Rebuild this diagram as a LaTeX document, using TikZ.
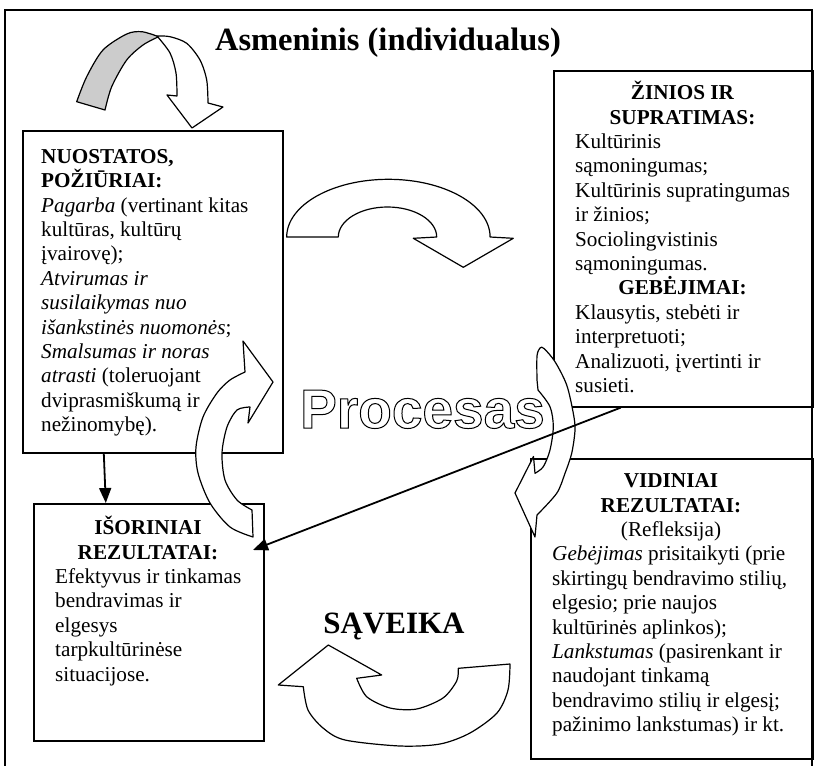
\documentclass[tikz,border=0pt]{standalone}
\usepackage{fontspec}
\setmainfont{Liberation Serif}
\newfontfamily\procfont{Liberation Sans}
\usetikzlibrary{arrows.meta}
% pirmos eilutes aukstis
\newcommand\lnstart{\rule{0pt}{20pt}}
\begin{document}
\begin{tikzpicture}[x=1pt, y=-1pt, >={Triangle[length=15pt,width=12pt]},
  every node/.style={inner sep=0pt, font=\fontsize{21.2}{24.4}\selectfont},
  box/.style={draw, line width=1.6pt, anchor=north west},
  blockarrow/.style={draw, fill=white, line width=1.2pt, line join=round},
  heading/.style={align=center, anchor=north, font=\fontsize{21.2}{24.4}\selectfont\bfseries},
  bodytext/.style={align=left, anchor=north west},
  bigtitle/.style={anchor=base, font=\fontsize{31}{36}\selectfont\bfseries},
  conn/.style={->, line width=1.8pt}]
  \useasboundingbox (0,0) rectangle (818,765);
  % remelis
  \draw[line width=1.3pt] (5,767) -- (5,10) -- (812,10) -- (812,767);
  \node[bigtitle, font=\fontsize{32.5}{38}\selectfont\bfseries] (title) at (388,51) {Asmeninis (individualus)};
  % keturi langeliai
  \node[box, minimum width=260, minimum height=322] (nuostatos) at (22,130) {};
  \node[box, minimum width=259, minimum height=336] (ziniai) at (553,70) {};
  \node[box, minimum width=230, minimum height=237] (isoriniai) at (33,503) {};
  \node[box, minimum width=282, minimum height=300] (vidiniai) at (530,458) {};
  % tekstai
  \node[bodytext] (nuostatostxt) at (41,143) {\lnstart\textbf{NUOSTATOS,}\\\textbf{POŽIŪRIAI:}\\\textit{Pagarba} (vertinant kitas\\kultūras, kultūrų\\įvairovę);\\\textit{Atvirumas ir}\\\textit{susilaikymas nuo}\\\textit{išankstinės nuomonės};\\\textit{Smalsumas ir noras}\\\textit{atrasti} (toleruojant\\dviprasmiškumą ir\\nežinomybę).};
  \node[heading] (ziniaihead) at (682.5,79.5) {\lnstart ŽINIOS IR\\SUPRATIMAS:};
  \node[bodytext] (ziniaitxt) at (575,128.3) {\lnstart Kultūrinis\\sąmoningumas;\\Kultūrinis supratingumas\\ir žinios;\\Sociolingvistinis\\sąmoningumas.};
  \node[heading] (gebejimaihead) at (682.5,274.7) {\lnstart GEBĖJIMAI:};
  \node[bodytext] (gebejimaitxt) at (575,299.1) {\lnstart Klausytis, stebėti ir\\interpretuoti;\\Analizuoti, įvertinti ir\\susieti.};
  \node[heading] (isoriniaihead) at (148,514.5) {\lnstart IŠORINIAI\\REZULTATAI:};
  \node[bodytext] (isoriniaitxt) at (55,563.3) {\lnstart Efektyvus ir tinkamas\\bendravimas ir\\elgesys\\tarpkultūrinėse\\situacijose.};
  \node[heading] (vidiniaihead) at (671,467.5) {\lnstart VIDINIAI\\REZULTATAI:\\\mdseries(Refleksija)};
  \node[bodytext] (vidiniaitxt) at (552,540.7) {\lnstart\textit{Gebėjimas} prisitaikyti (prie\\skirtingų bendravimo stilių,\\elgesio; prie naujos\\kultūrinės aplinkos);\\\textit{Lankstumas} (pasirenkant ir\\naudojant tinkamą\\bendravimo stilių ir elgesį;\\pažinimo lankstumas) ir kt.};
  \node[bigtitle] (saveika) at (394,633) {SĄVEIKA};
  % rodykle zemyn
  \draw[conn] ([xshift=-49]nuostatos.south) -- ([xshift=-43]isoriniai.north);
  % lenktos rodykles
  \filldraw[blockarrow, fill=gray!40] plot[smooth] coordinates {(76.7,101.7) (86.7,76.7) (103,50) (126.7,34) (141.7,31.7) (156.7,36)} -- plot[smooth] coordinates {(158,37) (143,45) (126.7,60) (111.7,86.7) (105,110)} -- cycle;
  \filldraw[blockarrow] plot[smooth] coordinates {(157,36) (170,53) (176,73) (177,96)} -- (167,95) -- (192,128) -- (223,107) -- plot[smooth] coordinates {(208,103) (206.7,80) (200,60) (186.7,43.3) (170,36.7) (157,36)} -- cycle;
  \filldraw[blockarrow] (286.7,237) arc[start angle=180, end angle=360, x radius=101.7, y radius=57.7] -- (513.3,238.3) -- (463.3,267.3) -- (413.3,238.3) -- (436.7,237) arc[start angle=0, end angle=-180, x radius=49.2, y radius=30] -- cycle;
  \filldraw[blockarrow] (243,341) -- (273,382) -- (248,423) -- plot[smooth] coordinates {(250,407) (237,410) (227,427) (222,453) (225,480) (237,500) (252,510)} -- plot[smooth] coordinates {(253,537) (230,527) (210,503) (198,473) (196,447) (203,417) (217,393) (230,380) (245,372)} -- cycle;
  \filldraw[blockarrow] plot[smooth] coordinates {(537,380) (537,356) (540,348) (544,348.5) (555,361.7) (566.7,385) (573.3,413.3) (575,430) (571.7,453.3) (565,473.3) (556.7,493.3) (537,515)} -- (535,537) -- (515,493) -- (533.5,456.5) -- plot[smooth] coordinates {(535,473.3) (543.3,466.7) (550,450) (553.3,426.7) (550,406.7) (538,390)} -- cycle;
  \filldraw[blockarrow] (328.3,645) -- (381.7,675) -- plot[smooth] coordinates {(356.7,678.3) (366.7,696.7) (390,708) (416.7,709) (443,698) (456.7,681) (458.3,668.3)} -- plot[smooth] coordinates {(510,664) (508,690) (497,713) (470,733) (440,744) (400,746) (345,740) (323,728) (308,710) (303.3,686.7)} -- (278.3,685) -- cycle;
  % Procesas
  \node[anchor=base, font=\procfont\bfseries\fontsize{55}{60}\selectfont] (procesas) at (422.5,428) {\special{pdf:literal direct 1 Tr 1 w}Procesas\special{pdf:literal direct 0 Tr}};
  % istrizaine rodykle
  \coordinate (diagtip) at (253,550);
  \draw[conn] ([xshift=-62.5]ziniai.south) -- (diagtip);
\end{tikzpicture}
\end{document}
